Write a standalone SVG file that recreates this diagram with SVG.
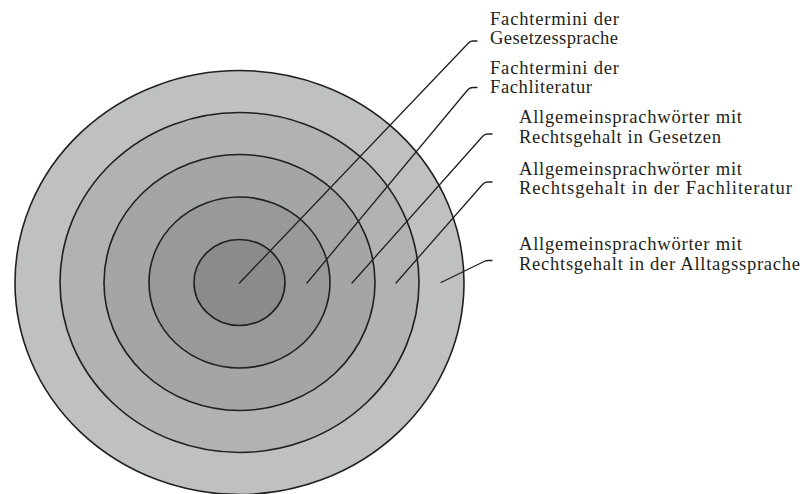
<svg xmlns="http://www.w3.org/2000/svg" width="803" height="494" viewBox="0 0 803 494">
<style>
.ring{stroke:#231f20;stroke-width:1.6}
.lead{fill:none;stroke:#231f20;stroke-width:1.3;stroke-linecap:round;stroke-linejoin:round}
.lbl{font-family:"Liberation Serif","Times New Roman",serif;font-size:18.6px;fill:#231f20}
</style>
<rect width="803" height="494" fill="#ffffff"/>
<g id="ring-alltagssprache"><ellipse class="ring" cx="239.5" cy="282.5" rx="224.5" ry="212" fill="#bfc0c2"/></g>
<g id="ring-fachliteratur-allg"><ellipse class="ring" cx="239.5" cy="282.5" rx="179.5" ry="170" fill="#b1b2b4"/></g>
<g id="ring-gesetze-allg"><ellipse class="ring" cx="239.5" cy="282.5" rx="135.5" ry="128" fill="#a4a5a7"/></g>
<g id="ring-fachliteratur"><ellipse class="ring" cx="239.5" cy="282.5" rx="90.5" ry="85.5" fill="#99999b"/></g>
<g id="ring-gesetzessprache"><ellipse class="ring" cx="239.5" cy="282.5" rx="45.5" ry="43" fill="#8a8b8d"/></g>
<g id="connectors">
<path class="lead" d="M239.5,283 L468,43.5 Q470,41 473,41 L477,41"/>
<path class="lead" d="M307,283 L468,89.5 Q470,87.5 473,87.5 L477,87.5"/>
<path class="lead" d="M352,283 L482.5,136.5 Q484.5,134 487.5,134 L492,134"/>
<path class="lead" d="M396,283 L482.5,184.5 Q484.5,182 487.5,182 L492,182"/>
<path class="lead" d="M441,282.5 L483,262 Q485.5,260.5 488,260.5 L492,260.5"/>
</g>
<g id="label-gesetzessprache"><text class="lbl" x="490" y="25" textLength="129" lengthAdjust="spacing">Fachtermini der</text><text class="lbl" x="490" y="44" textLength="128" lengthAdjust="spacing">Gesetzessprache</text></g>
<g id="label-fachliteratur"><text class="lbl" x="490" y="74" textLength="129" lengthAdjust="spacing">Fachtermini der</text><text class="lbl" x="490" y="93" textLength="102" lengthAdjust="spacing">Fachliteratur</text></g>
<g id="label-gesetze-allg"><text class="lbl" x="519" y="123" textLength="223" lengthAdjust="spacing">Allgemeinsprachwörter mit</text><text class="lbl" x="519" y="143" textLength="202" lengthAdjust="spacing">Rechtsgehalt in Gesetzen</text></g>
<g id="label-fachliteratur-allg"><text class="lbl" x="519" y="175" textLength="223" lengthAdjust="spacing">Allgemeinsprachwörter mit</text><text class="lbl" x="519" y="194" textLength="273" lengthAdjust="spacing">Rechtsgehalt in der Fachliteratur</text></g>
<g id="label-alltagssprache"><text class="lbl" x="519" y="250" textLength="223" lengthAdjust="spacing">Allgemeinsprachwörter mit</text><text class="lbl" x="519" y="270" textLength="281" lengthAdjust="spacing">Rechtsgehalt in der Alltagssprache</text></g>
</svg>
